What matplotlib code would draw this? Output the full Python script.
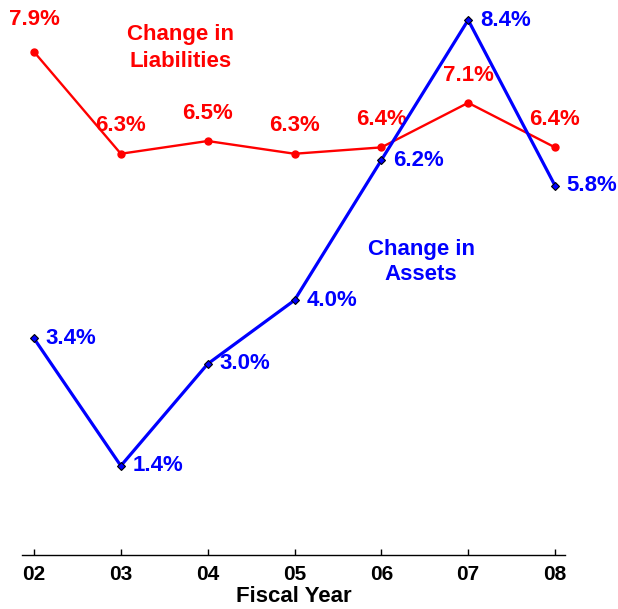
import matplotlib
matplotlib.use("Agg")
import matplotlib.pyplot as plt

years = ["02", "03", "04", "05", "06", "07", "08"]
liabilities = [7.9, 6.3, 6.5, 6.3, 6.4, 7.1, 6.4]
assets = [3.4, 1.4, 3.0, 4.0, 6.2, 8.4, 5.8]

plt.rcParams['font.family'] = ['Liberation Sans', 'DejaVu Sans']

fig = plt.figure(figsize=(6.18, 6.09), dpi=100)
ax = fig.add_axes([22/618, 54/609, 543/618, 535/609])
x = list(range(2, 2 + len(years)))

ax.plot(x, liabilities, color='#ff0000', lw=1.7, marker='o', ms=5,
        clip_on=False, zorder=3)
ax.plot(x, assets, color='#0000ff', lw=2.3, marker='D', ms=4,
        markerfacecolor='#0000ff', markeredgecolor='black', markeredgewidth=0.8,
        clip_on=False, zorder=4)

for i, (xi, v) in enumerate(zip(x, liabilities)):
    dy = 23.5 if i == 0 else 20
    ax.annotate(f"{v:.1f}%", (xi, v), xytext=(0, dy), textcoords='offset points',
                ha='center', va='center', color='#ff0000', fontsize=16,
                fontweight='bold', annotation_clip=False)
for xi, v in zip(x, assets):
    ax.annotate(f"{v:.1f}%", (xi, v), xytext=(8.5, 0), textcoords='offset points',
                ha='left', va='center', color='#0000ff', fontsize=16,
                fontweight='bold', annotation_clip=False)

ax.text(3.69, 7.96, "Change in\nLiabilities", color='#ff0000', fontsize=16,
        fontweight='bold', ha='center', va='center', linespacing=1.35)
ax.text(6.457, 4.6, "Change in\nAssets", color='#0000ff', fontsize=16,
        fontweight='bold', ha='center', va='center', linespacing=1.3)

ax.set_xlim(2 - 12/86.83, 8 + 10/86.83)
ax.set_ylim(0, 8.4)
ax.set_xticks(x)
ax.set_xticklabels(years, fontsize=15, fontweight='bold')
ax.set_yticks([])
for s in ['top', 'right', 'left']:
    ax.spines[s].set_visible(False)
ax.spines['bottom'].set_linewidth(1.0)
ax.tick_params(axis='x', direction='in', length=4, width=1, pad=7)
ax.set_xlabel("Fiscal Year", fontsize=16, fontweight='bold', labelpad=1.5)

fig.savefig("out.png", dpi=100, facecolor='white')
